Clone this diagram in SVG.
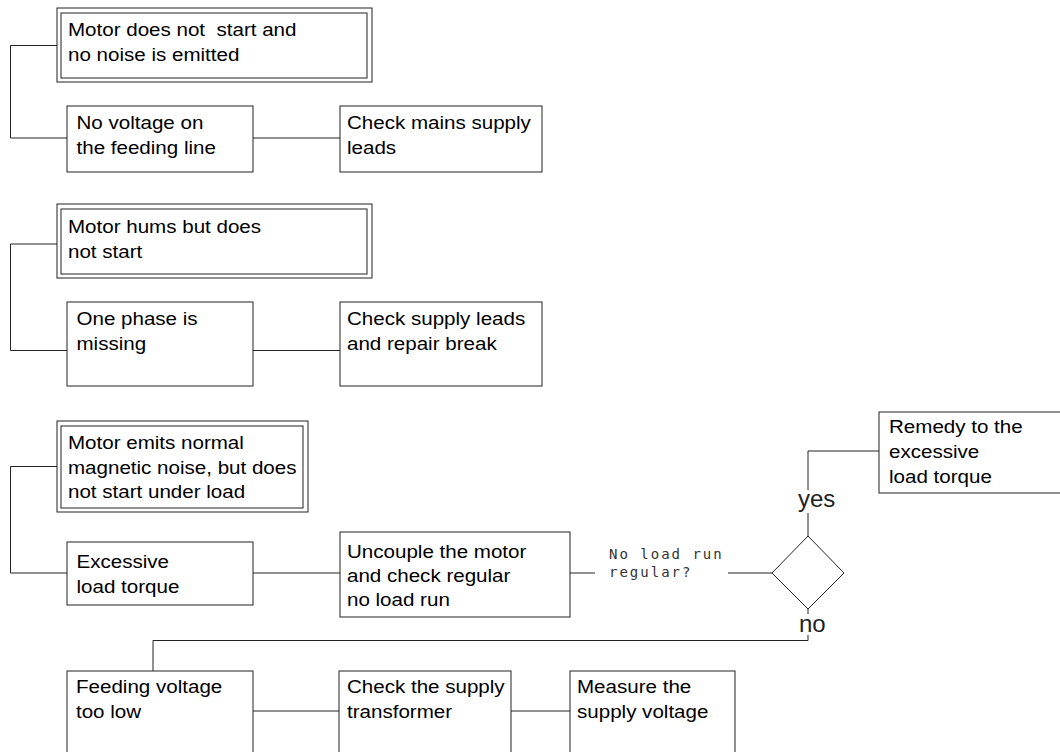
<svg xmlns="http://www.w3.org/2000/svg" width="1060" height="752" viewBox="0 0 1060 752">
<style>
.box{fill:#fff;stroke:#222;stroke-width:1}
.ln{fill:none;stroke:#222;stroke-width:1}
.t{font-family:"Liberation Sans",Arial,sans-serif;font-size:18.7px;fill:#000;white-space:pre}
.yn{font-family:"Liberation Sans",Arial,sans-serif;font-size:24px;fill:#222}
.q{font-family:"DejaVu Sans Mono",monospace;font-size:14px;letter-spacing:2px;fill:#333}
</style>
<rect width="1060" height="752" fill="#fff"/>
<g id="connectors">
<path class="ln" d="M57,45.5 H10.5 V138 H67"/>
<path class="ln" d="M253,138 H340"/>
<path class="ln" d="M57,244 H10.5 V350.5 H67"/>
<path class="ln" d="M253,350.5 H340"/>
<path class="ln" d="M57,466.5 H10.5 V573 H67"/>
<path class="ln" d="M253,573 H340"/>
<path class="ln" d="M570,573 H595"/>
<path class="ln" d="M728,573 H772"/>
<path class="ln" d="M808,536 V513"/>
<path class="ln" d="M808,490 V451 H879"/>
<path class="ln" d="M808,609 V614"/>
<path class="ln" d="M808,635 V640.5 H153 V671"/>
<path class="ln" d="M253,711 H339"/>
<path class="ln" d="M511,711 H570"/>
<text class="yn" x="798" y="507">yes</text>
<text class="yn" x="799" y="632">no</text>
<text class="q" x="609" y="559">No load run</text>
<text class="q" x="609" y="577">regular?</text>
</g>
<g id="n1">
<rect class="box" x="57" y="8" width="315" height="74"/>
<rect class="box" x="61" y="13" width="306" height="65"/>
<g transform="matrix(1.1 0 0 1 -6.8 0)">
<text class="t" x="68" y="36.5">Motor does not  start and</text>
<text class="t" x="68" y="61.5">no noise is emitted</text>
</g>
</g>
<g id="n2">
<rect class="box" x="67" y="106" width="186" height="66"/>
<g transform="matrix(1.1 0 0 1 -7.65 0)">
<text class="t" x="76.5" y="129.5">No voltage on</text>
<text class="t" x="76.5" y="154.5">the feeding line</text>
</g>
</g>
<g id="n3">
<rect class="box" x="340" y="106" width="202" height="66"/>
<g transform="matrix(1.1 0 0 1 -34.7 0)">
<text class="t" x="347" y="129.5">Check mains supply</text>
<text class="t" x="347" y="154.5">leads</text>
</g>
</g>
<g id="n4">
<rect class="box" x="57" y="204" width="315" height="74"/>
<rect class="box" x="61" y="209" width="306" height="65"/>
<g transform="matrix(1.1 0 0 1 -6.8 0)">
<text class="t" x="68" y="233">Motor hums but does</text>
<text class="t" x="68" y="258">not start</text>
</g>
</g>
<g id="n5">
<rect class="box" x="67" y="302" width="186" height="84"/>
<g transform="matrix(1.1 0 0 1 -7.65 0)">
<text class="t" x="76.5" y="325">One phase is</text>
<text class="t" x="76.5" y="350">missing</text>
</g>
</g>
<g id="n6">
<rect class="box" x="340" y="302" width="202" height="84"/>
<g transform="matrix(1.1 0 0 1 -34.7 0)">
<text class="t" x="347" y="325">Check supply leads</text>
<text class="t" x="347" y="350">and repair break</text>
</g>
</g>
<g id="n7">
<rect class="box" x="57" y="421" width="251" height="91"/>
<rect class="box" x="61" y="426" width="242" height="82"/>
<g transform="matrix(1.1 0 0 1 -6.8 0)">
<text class="t" x="68" y="449.5">Motor emits normal</text>
<text class="t" x="68" y="474">magnetic noise, but does</text>
<text class="t" x="68" y="498.5">not start under load</text>
</g>
</g>
<g id="n8">
<rect class="box" x="67" y="542" width="186" height="63"/>
<g transform="matrix(1.1 0 0 1 -7.65 0)">
<text class="t" x="76.5" y="568">Excessive</text>
<text class="t" x="76.5" y="593">load torque</text>
</g>
</g>
<g id="n9">
<rect class="box" x="340" y="532" width="230" height="85"/>
<g transform="matrix(1.1 0 0 1 -34.7 0)">
<text class="t" x="347" y="558.5">Uncouple the motor</text>
<text class="t" x="347" y="582.5">and check regular</text>
<text class="t" x="347" y="606.5">no load run</text>
</g>
</g>
<g id="n10">
<polygon class="box" points="808,536 844,573 808,609 772,573"/>
</g>
<g id="n11">
<rect class="box" x="879" y="412" width="185" height="81"/>
<g transform="matrix(1.1 0 0 1 -88.9 0)">
<text class="t" x="889" y="433">Remedy to the</text>
<text class="t" x="889" y="458">excessive</text>
<text class="t" x="889" y="483">load torque</text>
</g>
</g>
<g id="n12">
<rect class="box" x="67" y="671" width="186" height="90"/>
<g transform="matrix(1.1 0 0 1 -7.6 0)">
<text class="t" x="76" y="693">Feeding voltage</text>
<text class="t" x="76" y="718">too low</text>
</g>
</g>
<g id="n13">
<rect class="box" x="339" y="671" width="172" height="90"/>
<g transform="matrix(1.1 0 0 1 -34.7 0)">
<text class="t" x="347" y="693">Check the supply</text>
<text class="t" x="347" y="718">transformer</text>
</g>
</g>
<g id="n14">
<rect class="box" x="570" y="671" width="165" height="90"/>
<g transform="matrix(1.1 0 0 1 -57.7 0)">
<text class="t" x="577" y="693">Measure the</text>
<text class="t" x="577" y="718">supply voltage</text>
</g>
</g>
</svg>
